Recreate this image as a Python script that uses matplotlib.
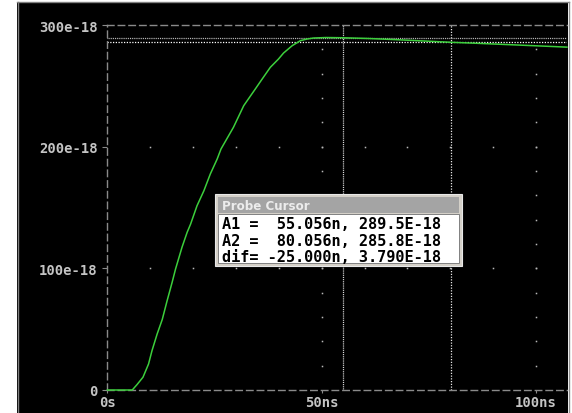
import matplotlib
matplotlib.use("Agg")
import matplotlib.pyplot as plt
from matplotlib.patches import Rectangle

# Transient waveform (time in ns, value in units of 1e-18)
time_ns = [0, 5.8, 6.9, 8.3, 9.6, 10.4, 11.6, 12.8, 13.9, 15.1, 15.9, 17.4, 18.6,
           19.4, 20.9, 22.5, 24.0, 25.6, 26.5, 29.4, 31.8, 34.5, 36.1, 38.0, 39.9,
           41.1, 43.1, 45.0, 46.6, 48.1, 51.0, 55.056, 61.0, 67.0, 73.0, 80.056,
           86.0, 92.0, 98.0, 104.0, 107.2]
value_e18 = [0, 0, 4.4, 10.5, 21.4, 32.3, 46.0, 58.0, 73.0, 88.5, 99.5, 117.3, 129.6,
             136.3, 151.4, 163.7, 177.5, 189.8, 198.1, 215.9, 233.7, 247.4, 255.6,
             265.2, 272.0, 277.0, 283.0, 287.1, 288.5, 289.3, 289.7, 289.5, 288.9,
             288.0, 287.0, 285.8, 285.0, 284.1, 283.2, 282.3, 281.8]

# Probe cursor readings
cursor_a1 = (55.056, 289.5)
cursor_a2 = (80.056, 285.8)
cursor_dif = (-25.000, 3.790)

x_ticks = [0, 50, 100]
x_tick_labels = ["0s", "50ns", "100ns"]
y_ticks = [0, 100, 200, 300]
y_tick_labels = ["0", "100e-18", "200e-18", "300e-18"]

W, H = 572, 414
fig = plt.figure(figsize=(W / 100, H / 100), dpi=100)
fig.patch.set_facecolor("white")

# Window background drawn in pixel coordinates
bg = fig.add_axes([0, 0, 1, 1], zorder=-1)
bg.set_xlim(0, W)
bg.set_ylim(H, 0)
bg.axis("off")
bg.add_patch(Rectangle((17, 3), 551, H, facecolor="black", edgecolor="none"))
bg.plot([17.5, 17.5], [3, H], color="#808080", lw=1.0)
bg.plot([17, 569], [3, 3], color="#808080", lw=1.0)
bg.plot([568.5, 568.5], [3, H], color="#909090", lw=1.0)

# Plot area
x0, x1 = 107.4, 567.0
y_top, y_bot = 26.0, 391.0
ax = fig.add_axes([x0 / W, (H - y_bot) / H, (x1 - x0) / W, (y_bot - y_top) / H], zorder=1)
ax.patch.set_alpha(0)
ax.set_xlim(0, (x1 - x0) / 4.287)
ax.set_ylim(0, 300)

grey = "#8a8a8a"
for side in ("top", "left", "bottom"):
    sp = ax.spines[side]
    sp.set_color(grey)
    sp.set_linewidth(1.0)
    sp.set_linestyle((0, (4.7, 3.0)))
ax.spines["right"].set_visible(False)

tick_font = {"family": "DejaVu Sans Mono", "weight": "bold", "size": 10}
ax.set_xticks(x_ticks)
ax.set_xticklabels(x_tick_labels, fontdict=tick_font, color="#c4c4c4")
ax.set_yticks(y_ticks)
ax.set_yticklabels(y_tick_labels, fontdict=tick_font, color="#c4c4c4")
ax.tick_params(axis="both", direction="out", width=0.8, color=grey)
ax.tick_params(axis="x", length=2.5, pad=1.0)
ax.tick_params(axis="y", length=3.5, pad=3.5)

# Dotted grid: dots along the major lines at minor spacing
dot_kw = dict(ls="none", marker="s", ms=1.1, mew=0, color="#b8b8b8", clip_on=False)
for gx in (50, 100):
    ax.plot([gx] * 14, list(range(20, 300, 20)), **dot_kw)
for gy in (100, 200):
    ax.plot(list(range(10, 110, 10)), [gy] * 10, **dot_kw)

# Cursor lines
ax.axvline(cursor_a1[0], color="#e8e8e8", lw=0.9, ls=(0, (0.75, 0.75)))
ax.axhline(cursor_a1[1], color="#c8c8c8", lw=0.9, ls=(0, (0.75, 0.75)))
ax.axvline(cursor_a2[0], color="#e8e8e8", lw=0.9, ls=(0, (1.0, 1.2)))
ax.axhline(cursor_a2[1], color="#ffffff", lw=0.9, ls=(0, (1.0, 1.2)))

# Waveform
ax.plot(time_ns, value_e18, color="#3ccf3c", lw=1.1, clip_on=False, zorder=5)

# Probe Cursor window, pixel coordinates
ov = fig.add_axes([0, 0, 1, 1], zorder=3)
ov.set_xlim(0, W)
ov.set_ylim(H, 0)
ov.axis("off")
ov.patch.set_alpha(0)
ov.add_patch(Rectangle((215, 195), 247, 72, facecolor="#d4d0c8", edgecolor="#e8e8e8", lw=0.8))
ov.add_patch(Rectangle((218, 198), 241, 16, facecolor="#a4a4a4", edgecolor="none"))
ov.add_patch(Rectangle((218, 215), 241, 49, facecolor="white", edgecolor="#808080", lw=0.7))
ov.text(221.5, 206.5, "Probe Cursor", ha="left", va="center", color="#ececec",
        fontsize=8.6, fontweight="bold", family="DejaVu Sans")

lines = [
    f"A1 = {cursor_a1[0]:7.3f}n, {cursor_a1[1]:.1f}E-18",
    f"A2 = {cursor_a2[0]:7.3f}n, {cursor_a2[1]:.1f}E-18",
    f"dif= {cursor_dif[0]:7.3f}n, {cursor_dif[1]:.3f}E-18",
]
for i, s in enumerate(lines):
    ov.text(222, 224.8 + i * 16.6, s, ha="left", va="center", color="black",
            family="DejaVu Sans Mono", weight="bold", size=11)

fig.savefig("out.png", dpi=100, facecolor=fig.get_facecolor())
